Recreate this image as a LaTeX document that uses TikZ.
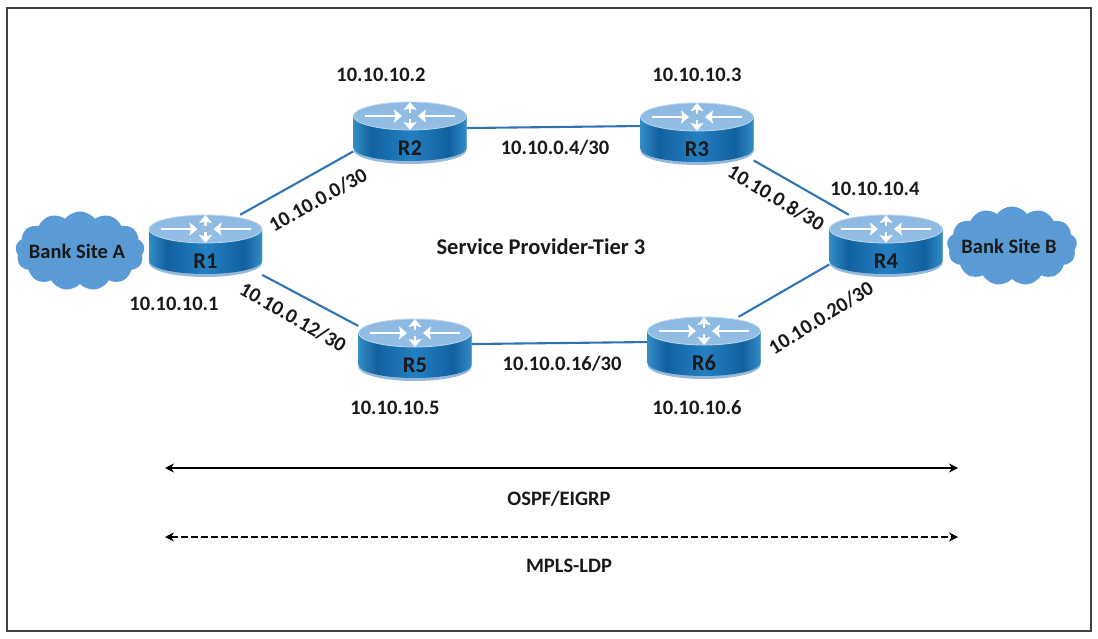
\documentclass[tikz,border=0pt]{standalone}
\usepackage{fontspec}
\setmainfont{Carlito}
\usetikzlibrary{arrows.meta,backgrounds,shapes.symbols}

\definecolor{cloudblue}{HTML}{5B9BD5}
\definecolor{linkblue}{HTML}{2E74B5}
\pgfdeclarehorizontalshading{routerside}{100bp}{
  rgb(0bp)=(0.20,0.55,0.78);
  rgb(25bp)=(0.20,0.55,0.78);
  rgb(33bp)=(0.07,0.38,0.62);
  rgb(50bp)=(0.14,0.50,0.76);
  rgb(67bp)=(0.07,0.38,0.62);
  rgb(75bp)=(0.20,0.55,0.78);
  rgb(100bp)=(0.20,0.55,0.78)}

\tikzset{
  routerbox/.style={minimum width=113pt, minimum height=62pt, inner sep=0pt},
  routertext/.style={yshift=-15pt, font=\bfseries\fontsize{22.5}{26}\selectfont, text=black!90},
  addr/.style={font=\bfseries\fontsize{20.5}{24}\selectfont, text=black!90},
  link/.style={draw=linkblue, line width=2.1pt},
  span/.style={line width=1.5pt, {Stealth[length=9pt,width=9pt]}-{Stealth[length=9pt,width=9pt]}},
  site/.style={cloud, cloud puffs=13, cloud puff arc=105, aspect=1.6, fill=cloudblue, inner sep=0pt},
  sitetext/.style={xshift=-3pt, font=\bfseries\fontsize{20.5}{24}\selectfont, text=black!90},
  whitearrow/.style={draw=white, line width=2.4pt, -{Stealth[length=8pt,width=13pt,inset=1.5pt]}}
}
\newcommand{\router}[3]{
  \begin{scope}[shift={(#2)}]
    \fill[color=white!50!linkblue] (-56.5,-17) -- (-56.5,17) arc (180:0:56.5 and 14) -- (56.5,-17) -- cycle;
    \shade[shading=routerside] (-56.5,-17) -- (-56.5,15) arc (180:0:56.5 and 13) -- (56.5,-17) -- cycle;
    \shade[top color=white!30!cloudblue, bottom color=white!35!cloudblue, draw=white!60!cloudblue, line width=0.8pt]
      (0,-17) ellipse (56.5 and 14);
    \draw[whitearrow] (-45,-17) -- (-8,-17);
    \draw[whitearrow] (45,-17) -- (8,-17);
    \draw[whitearrow] (0,-20) -- (0,-31);
    \draw[whitearrow] (0,-14) -- (0,-3);
  \end{scope}
  \node[routerbox, label={[routertext]center:#3}] (#1) at (#2) {};
}

\begin{document}
\begin{tikzpicture}[x=1pt, y=-1pt]

  \useasboundingbox (0,0) rectangle (1098,639);
  \node[draw=black!75, line width=1.2pt, minimum width=1084pt, minimum height=623pt, inner sep=0pt] (frame) at (549,319.5) {};

  % Define nodes
  \router{r1}{205.5,246}{R1}
  \router{r2}{410,133}{R2}
  \router{r3}{697,134}{R3}
  \router{r4}{886,246}{R4}
  \router{r5}{415,350}{R5}
  \router{r6}{704,348}{R6}

  \node[site, minimum width=129pt, minimum height=79pt, label={[sitetext]center:Bank Site A}] (sitea) at (80,251) {};
  \node[site, minimum width=130pt, minimum height=79pt, label={[sitetext]center:Bank Site B}] (siteb) at (1012,246) {};

  \node[addr] (a1) at (174,304) {10.10.10.1};
  \node[addr] (a2) at (381,75) {10.10.10.2};
  \node[addr] (a3) at (697,75) {10.10.10.3};
  \node[addr] (a4) at (875,189) {10.10.10.4};
  \node[addr] (a5) at (395,408) {10.10.10.5};
  \node[addr] (a6) at (697,408) {10.10.10.6};

  \node[addr, rotate=29] (n12) at (318,200) {10.10.0.0/30};
  \node[addr] (n23) at (555,148) {10.10.0.4/30};
  \node[addr, rotate=-31] (n34) at (776,198) {10.10.0.8/30};
  \node[addr, rotate=-30] (n15) at (293,317) {10.10.0.12/30};
  \node[addr] (n56) at (562,364) {10.10.0.16/30};
  \node[addr, rotate=32] (n64) at (821,318) {10.10.0.20/30};

  \node[addr, font=\bfseries\fontsize{22.5}{26}\selectfont] (tier) at (541,247) {Service Provider-Tier 3};
  \node[addr] (ospf) at (559,499) {OSPF/EIGRP};
  \node[addr] (mpls) at (569,566) {MPLS-LDP};

  \coordinate (ospfl) at (165,468);
  \coordinate (ospfr) at (958,468);
  \coordinate (mplsl) at (165,537);
  \coordinate (mplsr) at (958,537);

  % Connect the nodes
  \begin{scope}[on background layer]
    \draw[link] (r1.42) -- (r2.198);
    \draw[link] (r1.333) -- (r5.157);
    \draw[link] (r2.5) -- (r3.172);
    \draw[link] (r5.6) -- (r6.174);
    \draw[link] (r3.335) -- (r4.140);
    \draw[link] (r6.42) -- (r4.198);
  \end{scope}
  \draw[span] (ospfl) -- (ospfr);
  \draw[span, dash pattern=on 7pt off 3pt] (mplsl) -- (mplsr);

\end{tikzpicture}
\end{document}
